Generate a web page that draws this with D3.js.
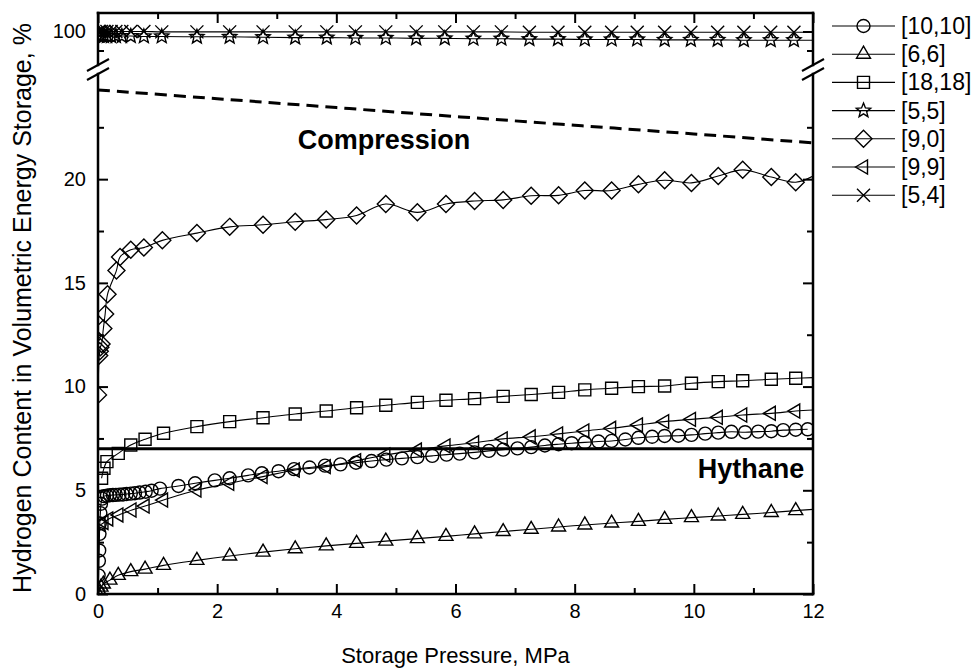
<!DOCTYPE html>
<html>
<head>
<meta charset="utf-8">
<script src="https://cdn.jsdelivr.net/npm/d3@7"></script>
<style>
body { margin: 0; background: #fff; }
text { font-family: "Liberation Sans", Arial, sans-serif; fill: #000; }
</style>
</head>
<body>
<svg id="chart" width="977" height="671"></svg>
<script>
// valeurs (pression en MPa, teneur en %)

var p10_10 = [0, 0.01, 0.015, 0.02, 0.025, 0.03, 0.04, 0.05, 0.07,
  0.1, 0.15, 0.2, 0.25, 0.3, 0.36, 0.42, 0.48, 0.55, 0.62, 0.7, 0.8, 0.9,
  1.04, 1.35, 1.63, 1.96, 2.21, 2.52, 2.75, 3.03, 3.29, 3.55, 3.81, 4.07, 4.33, 4.59, 4.84, 5.10, 5.36, 5.61,
  5.85, 6.07, 6.32, 6.56, 6.80, 7.04, 7.27, 7.50, 7.73, 7.95, 8.17, 8.40, 8.62, 8.85, 9.07, 9.30, 9.51, 9.74,
  9.96, 10.19, 10.41, 10.63, 10.86, 11.08, 11.30, 11.50, 11.71, 11.91];
var h10_10 = [0.1, 0.9, 1.6, 2.1, 2.9, 3.4, 3.9, 4.35, 4.6,
  4.72, 4.74, 4.76, 4.77, 4.78, 4.79, 4.8, 4.82, 4.84, 4.86, 4.89, 4.93, 4.98,
  5.08, 5.21, 5.34, 5.48, 5.58, 5.72, 5.82, 5.92, 6.02, 6.10, 6.19, 6.25, 6.33, 6.41, 6.48, 6.54, 6.60, 6.66,
  6.72, 6.77, 6.83, 6.90, 6.96, 7.02, 7.08, 7.16, 7.22, 7.27, 7.31, 7.35, 7.38, 7.45, 7.53, 7.58, 7.62, 7.63,
  7.67, 7.73, 7.78, 7.82, 7.80, 7.83, 7.85, 7.90, 7.92, 7.94];

var p6_6 = [0, 0.02, 0.05, 0.09, 0.2, 0.34, 0.55, 0.79, 1.10, 1.66, 2.21, 2.77, 3.31, 3.83, 4.34, 4.83,
  5.36, 5.84, 6.32, 6.80, 7.27, 7.73, 8.17, 8.62, 9.07, 9.51, 9.96, 10.41, 10.82, 11.30, 11.71];
var h6_6 = [0, 0.15, 0.33, 0.48, 0.67, 0.9, 1.08, 1.2, 1.38, 1.62, 1.83, 2.02, 2.18, 2.32, 2.44, 2.55,
  2.67, 2.78, 2.9, 3.01, 3.12, 3.23, 3.33, 3.42, 3.5, 3.6, 3.68, 3.76, 3.84, 3.93, 4.02];

var p18_18 = [0.06, 0.10, 0.15, 0.34, 0.55, 0.79, 1.10, 1.66, 2.21, 2.77, 3.31, 3.83, 4.34, 4.83,
  5.36, 5.84, 6.32, 6.80, 7.27, 7.73, 8.17, 8.62, 9.07, 9.51, 9.96, 10.41, 10.82, 11.30, 11.71];
var h18_18 = [5.58, 6.06, 6.38, 6.78, 7.18, 7.46, 7.75, 8.07, 8.31, 8.50, 8.68, 8.82, 8.98, 9.10,
  9.24, 9.34, 9.42, 9.53, 9.62, 9.72, 9.84, 9.92, 10.0, 10.03, 10.16, 10.24, 10.28, 10.35, 10.40];

var p5_5 = [0.01, 0.03, 0.06, 0.1, 0.15, 0.22, 0.3, 0.4, 0.55, 0.77, 1.07, 1.66, 2.21, 2.77, 3.31, 3.84,
  4.32, 4.83, 5.34, 5.82, 6.30, 6.77, 7.24, 7.72, 8.17, 8.62, 9.05, 9.51, 9.95, 10.40, 10.84, 11.29, 11.68];
var h5_5 = [99.89, 99.89, 99.89, 99.88, 99.88, 99.88, 99.88, 99.88, 99.88, 99.87, 99.87, 99.86, 99.86,
  99.85, 99.84, 99.84, 99.83, 99.83, 99.82, 99.82, 99.81, 99.81, 99.80, 99.80, 99.79, 99.79, 99.79,
  99.78, 99.78, 99.78, 99.77, 99.77, 99.77];

var p9_0 = [0, 0.02, 0.03, 0.04, 0.06, 0.09, 0.12, 0.16, 0.31, 0.37, 0.55, 0.77, 1.08, 1.66, 2.21, 2.77,
  3.31, 3.83, 4.34, 4.83, 5.36, 5.84, 6.32, 6.80, 7.27, 7.73, 8.17, 8.62, 9.07, 9.51, 9.96, 10.41,
  10.82, 11.30, 11.71];
var h9_0 = [9.6, 11.5, 11.7, 11.9, 12.05, 12.8, 13.5, 14.45, 15.6, 16.25, 16.6, 16.7, 17.05, 17.4, 17.7,
  17.8, 17.95, 18.05, 18.25, 18.8, 18.4, 18.8, 18.95, 19.0, 19.2, 19.22, 19.45, 19.45, 19.75, 19.95,
  19.82, 20.15, 20.45, 20.1, 19.85];

var p9_9 = [0.05, 0.1, 0.18, 0.35, 0.57, 0.79, 1.10, 1.66, 2.21, 2.77, 3.31, 3.83, 4.34, 4.83,
  5.36, 5.84, 6.32, 6.80, 7.27, 7.73, 8.17, 8.62, 9.07, 9.51, 9.96, 10.41, 10.82, 11.30, 11.71];
var h9_9 = [3.35, 3.45, 3.62, 3.81, 4.05, 4.24, 4.53, 5.01, 5.34, 5.66, 5.98, 6.14, 6.43, 6.70,
  6.94, 7.14, 7.29, 7.48, 7.58, 7.72, 7.86, 7.99, 8.15, 8.31, 8.42, 8.52, 8.63, 8.71, 8.82];

var p5_4 = p5_5;
var h5_4 = [100.0, 100.0, 100.0, 100.0, 100.0, 100.0, 100.0, 100.0, 100.0, 100.0, 99.99, 99.99, 99.99,
  99.99, 99.99, 99.99, 99.99, 99.99, 99.99, 99.99, 99.99, 99.99, 99.98, 99.98, 99.98, 99.98, 99.98,
  99.98, 99.98, 99.98, 99.98, 99.98, 99.98];

// valeur des courbes au bord droit (12 MPa), sans symbole
var lineEnd = [null, 4.08, 10.43, 99.77, 20.15, 8.87, 99.98];

var seriesNames = ["[10,10]", "[6,6]", "[18,18]", "[5,5]", "[9,0]", "[9,9]", "[5,4]"];
var seriesSymbols = ["circle", "triUp", "square", "star", "diamond", "triLeft", "cross"];

// limites : compression (tirets) et hythane (trait plein)
var compP = [0, 2, 4, 6, 8, 10, 12];
var compH = [24.3, 23.88, 23.45, 23.02, 22.6, 22.18, 21.75];
var hythaneH = 7.0;

var xTicks = [0, 2, 4, 6, 8, 10, 12];
var xMinor = [1, 3, 5, 7, 9, 11];
var yTicks = [0, 5, 10, 15, 20];
var yMinor = [2.5, 7.5, 12.5, 17.5, 22.5];
var yTicksUp = [100];
var yMinorUp = [99.5];

var L = 98, R = 813, T = 13, B = 594;
var breakLow = 74, breakUp = 65;

var svg = d3.select("#chart");

var x = d3.scaleLinear().domain([0, 12]).range([L, R]);
var yLow = d3.scaleLinear().domain([0, 25.07]).range([B, breakLow]);
var yUp = d3.scaleLinear().domain([99.118, 100.487]).range([breakUp, T]);
function yOf(v) { return v > 50 ? yUp(v) : yLow(v); }

// symboles
function starPath(ro, ri) {
  var pts = [];
  for (var i = 0; i < 10; i++) {
    var a = -Math.PI / 2 + i * Math.PI / 5;
    var r = i % 2 ? ri : ro;
    pts.push([r * Math.cos(a), r * Math.sin(a)]);
  }
  return "M" + pts.map(p => p[0].toFixed(2) + "," + p[1].toFixed(2)).join("L") + "Z";
}
var shapes = {
  circle: "M6.5,0A6.5,6.5 0 1,1 -6.5,0A6.5,6.5 0 1,1 6.5,0Z",
  triUp: "M0,-8L7,4L-7,4Z",
  square: "M-6,-6H6V6H-6Z",
  star: starPath(7.5, 3.3),
  diamond: "M0,-8.5L8.5,0L0,8.5L-8.5,0Z",
  triLeft: "M-8,0L4,-7L4,7Z",
  cross: "M-6.5,-6.5L6.5,6.5M-6.5,6.5L6.5,-6.5"
};

var allP = [p10_10, p6_6, p18_18, p5_5, p9_0, p9_9, p5_4];
var allH = [h10_10, h6_6, h18_18, h5_5, h9_0, h9_9, h5_4];

var series = seriesNames.map((name, i) => {
  var pts = allP[i].map((p, j) => ({ p: p, v: allH[i][j] })).filter(d => d.v != null);
  return { name: name, symbol: seriesSymbols[i], points: pts, end: lineEnd[i] };
});

svg.append("defs").append("clipPath").attr("id", "plotClip")
  .append("rect").attr("x", L).attr("y", T).attr("width", R - L).attr("height", B - T);

var plot = svg.append("g").attr("clip-path", "url(#plotClip)");

var line = d3.line()
  .x(d => x(d.p))
  .y(d => yOf(d.v))
  .curve(d3.curveCatmullRom.alpha(0.5));

// limite de compression
plot.append("path")
  .datum(compP.map((p, i) => ({ p: p, v: compH[i] })))
  .attr("fill", "none")
  .attr("stroke", "#000")
  .attr("stroke-width", 3)
  .attr("stroke-dasharray", "12,7")
  .attr("d", line);

// limite hythane
plot.append("line")
  .attr("x1", x(0)).attr("x2", x(12))
  .attr("y1", yLow(hythaneH)).attr("y2", yLow(hythaneH))
  .attr("stroke", "#000").attr("stroke-width", 3);

series.forEach(s => {
  var linePts = s.points.slice();
  if (s.end != null) linePts.push({ p: 12, v: s.end });
  var grp = plot.append("g");
  grp.append("path")
    .datum(linePts)
    .attr("fill", "none")
    .attr("stroke", "#000")
    .attr("stroke-width", 1.1)
    .attr("d", line);
  grp.selectAll("path.mk")
    .data(s.points)
    .join("path")
    .attr("class", "mk")
    .attr("transform", d => `translate(${x(d.p)},${yOf(d.v)})`)
    .attr("d", shapes[s.symbol])
    .attr("fill", "none")
    .attr("stroke", "#000")
    .attr("stroke-width", 1.4);
});

// annotations
svg.append("text")
  .attr("x", x(4.8)).attr("y", yLow(21.45))
  .attr("text-anchor", "middle")
  .attr("font-size", 27).attr("font-weight", "bold")
  .text("Compression");
svg.append("text")
  .attr("x", x(10.96)).attr("y", yLow(5.59))
  .attr("text-anchor", "middle")
  .attr("font-size", 27).attr("font-weight", "bold")
  .text("Hythane");

// axes, graduations vers l'intérieur
function styleAxis(g) {
  g.select(".domain").remove();
  g.selectAll(".tick line").attr("stroke", "#000").attr("stroke-width", 2);
  g.selectAll(".tick text").attr("font-size", 20).attr("font-family", "Liberation Sans, Arial, sans-serif");
}

svg.append("g").attr("transform", `translate(0,${B})`)
  .call(d3.axisBottom(x).tickValues(xTicks).tickSize(-10).tickPadding(10).tickFormat(d3.format("d")))
  .call(styleAxis);
svg.append("g").attr("transform", `translate(0,${B})`)
  .call(d3.axisBottom(x).tickValues(xMinor).tickSize(-6).tickFormat(""))
  .call(styleAxis);
svg.append("g").attr("transform", `translate(0,${T})`)
  .call(d3.axisTop(x).tickValues(xTicks).tickSize(-10).tickFormat(""))
  .call(styleAxis);
svg.append("g").attr("transform", `translate(0,${T})`)
  .call(d3.axisTop(x).tickValues(xMinor).tickSize(-6).tickFormat(""))
  .call(styleAxis);

[[yLow, yTicks, yMinor], [yUp, yTicksUp, yMinorUp]].forEach(a => {
  svg.append("g").attr("transform", `translate(${L},0)`)
    .call(d3.axisLeft(a[0]).tickValues(a[1]).tickSize(-10).tickPadding(12).tickFormat(d3.format("d")))
    .call(styleAxis);
  svg.append("g").attr("transform", `translate(${L},0)`)
    .call(d3.axisLeft(a[0]).tickValues(a[2]).tickSize(-6).tickFormat(""))
    .call(styleAxis);
  svg.append("g").attr("transform", `translate(${R},0)`)
    .call(d3.axisRight(a[0]).tickValues(a[1]).tickSize(-10).tickFormat(""))
    .call(styleAxis);
  svg.append("g").attr("transform", `translate(${R},0)`)
    .call(d3.axisRight(a[0]).tickValues(a[2]).tickSize(-6).tickFormat(""))
    .call(styleAxis);
});

// cadre, interrompu à la coupure de l'axe y
var frame = svg.append("g").attr("stroke", "#000").attr("stroke-width", 2.5)
  .attr("stroke-linecap", "square").attr("fill", "none");
frame.append("line").attr("x1", L).attr("x2", R).attr("y1", B).attr("y2", B);
frame.append("line").attr("x1", L).attr("x2", R).attr("y1", T).attr("y2", T);
[L, R].forEach(xx => {
  frame.append("line").attr("x1", xx).attr("x2", xx).attr("y1", B).attr("y2", breakLow);
  frame.append("line").attr("x1", xx).attr("x2", xx).attr("y1", breakUp).attr("y2", T);
  // marques de coupure //
  [breakUp, breakLow].forEach(yy => {
    svg.append("line")
      .attr("x1", xx - 11).attr("y1", yy + 6)
      .attr("x2", xx + 11).attr("y2", yy - 6)
      .attr("stroke", "#000").attr("stroke-width", 2);
  });
});

// titres des axes
svg.append("text")
  .attr("x", (L + R) / 2).attr("y", 663)
  .attr("text-anchor", "middle").attr("font-size", 22)
  .text("Storage Pressure, MPa");
svg.append("text")
  .attr("transform", "translate(31,308) rotate(-90)")
  .attr("text-anchor", "middle").attr("font-size", 25)
  .text("Hydrogen Content in Volumetric Energy Storage, %");

// légende
var legend = svg.append("g");
series.forEach((s, i) => {
  var yy = 26 + i * 28.2;
  var g = legend.append("g").attr("transform", `translate(0,${yy})`);
  g.append("line").attr("x1", 832).attr("x2", 895).attr("y1", 0).attr("y2", 0)
    .attr("stroke", "#000").attr("stroke-width", 1.1);
  g.append("path").attr("transform", "translate(863.5,0)").attr("d", shapes[s.symbol])
    .attr("fill", "none").attr("stroke", "#000").attr("stroke-width", 1.4);
  g.append("text").attr("x", 901).attr("y", 8).attr("font-size", 23).text(s.name);
});
</script>
</body>
</html>
